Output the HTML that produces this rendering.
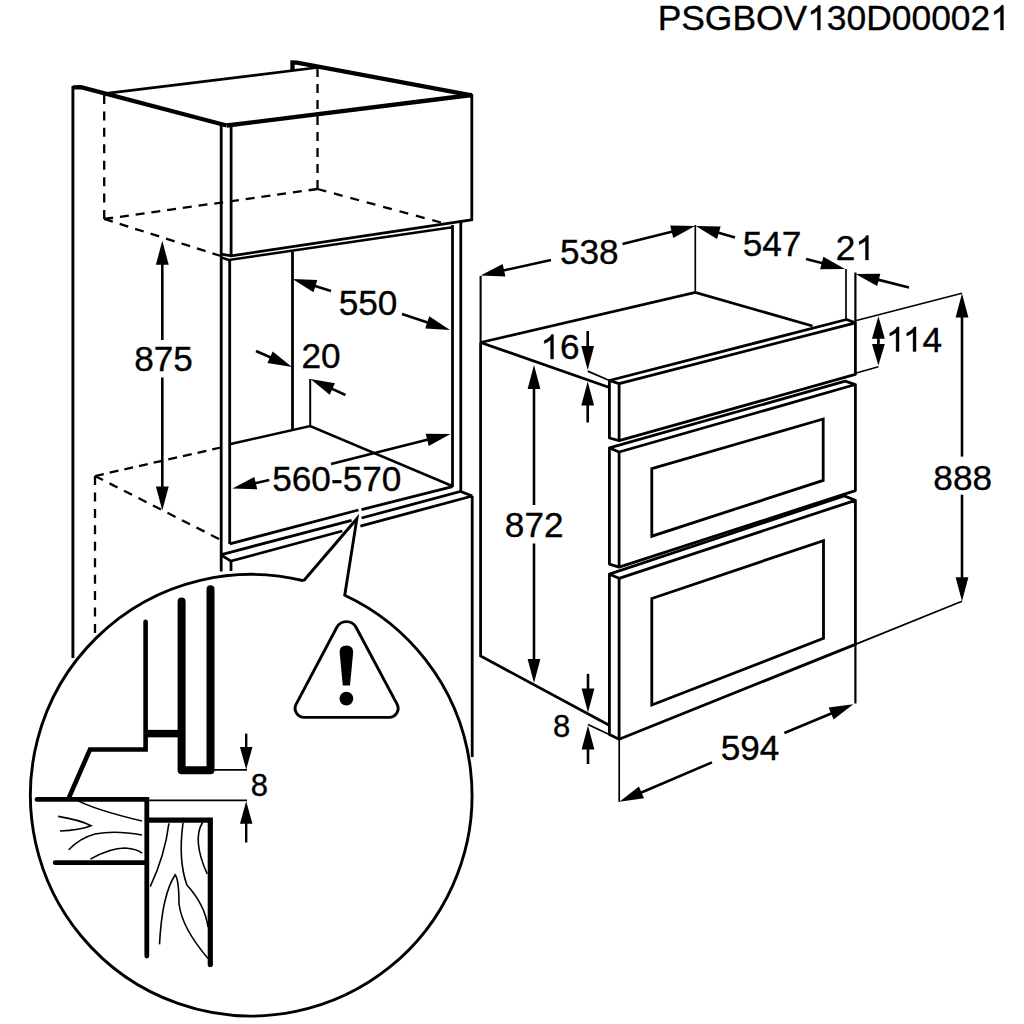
<!DOCTYPE html>
<html><head><meta charset="utf-8"><style>
html,body{margin:0;padding:0;background:#fff;}
svg{display:block;}
text{font-family:"Liberation Sans", sans-serif;fill:#000;stroke:#000;stroke-width:0.35px;}
</style></head><body>
<svg width="1024" height="1024" viewBox="0 0 1024 1024">
<rect width="1024" height="1024" fill="#fff"/>
<path d="M72.90,86.00 L72.90,658.00" fill="none" stroke="#000" stroke-width="2.9" />
<path d="M72.90,87.30 L81.00,87.20 L226.70,125.50" fill="none" stroke="#000" stroke-width="4.3" />
<path d="M226.70,125.50 L471.80,95.00" fill="none" stroke="#000" stroke-width="4.3" />
<path d="M104.50,93.60 L317.50,67.50" fill="none" stroke="#000" stroke-width="2.7" />
<path d="M292.50,70.00 L292.50,62.50 L297.00,62.60 L471.80,95.30" fill="none" stroke="#000" stroke-width="4.3" />
<path d="M471.80,94.00 L471.80,219.60" fill="none" stroke="#000" stroke-width="2.8" />
<path d="M473.00,219.60 L231.25,255.80 L221.20,254.20" fill="none" stroke="#000" stroke-width="2.8" />
<path d="M221.20,257.50 L228.90,260.00 L452.30,227.20" fill="none" stroke="#000" stroke-width="2.4" />
<path d="M104.20,95.00 L104.20,219.00" fill="none" stroke="#000" stroke-width="2.3" stroke-dasharray="9.0 7.429"/>
<path d="M104.20,219.00 L221.00,256.00" fill="none" stroke="#000" stroke-width="2.3" stroke-dasharray="9.0 7.217"/>
<path d="M104.20,219.00 L317.50,189.00" fill="none" stroke="#000" stroke-width="2.3" stroke-dasharray="9.0 6.877"/>
<path d="M317.50,189.00 L441.00,222.50" fill="none" stroke="#000" stroke-width="2.3" stroke-dasharray="9.0 7.995"/>
<path d="M317.50,68.00 L317.50,189.00" fill="none" stroke="#000" stroke-width="2.3" stroke-dasharray="9.0 7.000"/>
<path d="M221.20,124.00 L221.20,571.50" fill="none" stroke="#000" stroke-width="2.8" />
<path d="M231.10,125.00 L231.10,255.80" fill="none" stroke="#000" stroke-width="2.8" />
<path d="M229.70,260.00 L229.70,543.90" fill="none" stroke="#000" stroke-width="2.8" />
<path d="M231.00,561.00 L231.00,571.00" fill="none" stroke="#000" stroke-width="2.8" />
<path d="M452.50,225.00 L452.50,487.00" fill="none" stroke="#000" stroke-width="2.8" />
<path d="M460.80,221.00 L460.80,492.00" fill="none" stroke="#000" stroke-width="2.8" />
<path d="M292.50,251.50 L292.50,429.00" fill="none" stroke="#000" stroke-width="2.8" />
<path d="M310.20,379.00 L310.20,426.00" fill="none" stroke="#000" stroke-width="2.0" />
<path d="M230.60,444.00 L310.20,426.00 L452.20,486.00" fill="none" stroke="#000" stroke-width="2.5" />
<path d="M229.70,543.90 L358.50,510.00" fill="none" stroke="#000" stroke-width="2.8" />
<path d="M361.50,509.60 L452.50,486.70" fill="none" stroke="#000" stroke-width="2.8" />
<path d="M220.60,554.80 L351.60,520.40" fill="none" stroke="#000" stroke-width="2.8" />
<path d="M361.60,518.00 L460.50,491.50 L472.30,496.00" fill="none" stroke="#000" stroke-width="2.8" />
<path d="M220.60,554.80 L231.00,561.10 L342.30,531.00" fill="none" stroke="#000" stroke-width="2.8" />
<path d="M360.40,526.20 L472.30,496.00" fill="none" stroke="#000" stroke-width="2.8" />
<path d="M95.00,476.00 L221.00,447.50" fill="none" stroke="#000" stroke-width="2.3" stroke-dasharray="9.0 6.023"/>
<path d="M95.00,476.00 L219.00,539.00" fill="none" stroke="#000" stroke-width="2.3" stroke-dasharray="9.0 7.261"/>
<path d="M95.00,476.00 L95.00,633.00" fill="none" stroke="#000" stroke-width="2.3" stroke-dasharray="9.0 7.444"/>
<path d="M472.20,496.00 L472.20,757.00" fill="none" stroke="#000" stroke-width="2.8" />
<path d="M162.30,240.70 L155.90,264.70 L168.70,264.70 Z" fill="#000"/>
<path d="M162.30,262.70 L162.30,340.00" fill="none" stroke="#000" stroke-width="2.6" />
<path d="M162.30,510.50 L168.70,486.50 L155.90,486.50 Z" fill="#000"/>
<path d="M162.30,488.50 L162.30,377.50" fill="none" stroke="#000" stroke-width="2.6" />
<text x="134.14" y="370.50" font-size="35.2">875</text>
<path d="M292.50,279.00 L313.51,292.25 L317.32,280.03 Z" fill="#000"/>
<path d="M313.50,285.55 L331.00,291.00" fill="none" stroke="#000" stroke-width="2.6" />
<path d="M450.00,330.00 L429.26,316.34 L425.21,328.48 Z" fill="#000"/>
<path d="M429.13,323.04 L402.00,314.00" fill="none" stroke="#000" stroke-width="2.6" />
<text x="338.64" y="315.00" font-size="35.2">550</text>
<path d="M292.00,367.00 L272.67,351.40 L267.47,363.10 Z" fill="#000"/>
<path d="M271.90,358.06 L256.00,351.00" fill="none" stroke="#000" stroke-width="2.6" />
<path d="M310.50,379.00 L329.67,394.80 L334.99,383.16 Z" fill="#000"/>
<path d="M330.51,388.15 L345.50,395.00" fill="none" stroke="#000" stroke-width="2.6" />
<text x="301.42" y="367.50" font-size="35.2">20</text>
<path d="M450.50,434.00 L425.66,433.64 L428.78,446.05 Z" fill="#000"/>
<path d="M429.16,439.36 L331.00,464.00" fill="none" stroke="#000" stroke-width="2.6" />
<path d="M232.40,488.50 L257.22,489.35 L254.35,476.88 Z" fill="#000"/>
<path d="M253.84,483.56 L269.30,480.00" fill="none" stroke="#000" stroke-width="2.6" />
<text x="272.21" y="491.00" font-size="35.2">560-570</text>
<path d="M303.65,580.72 L356.9,518.7 L344.74,595.19 A220.8,220.8 0 1 1 303.65,580.72" fill="#fff" stroke="#000" stroke-width="2.9"/>
<path d="M356.15,627.48 L397.04,704.17 A9,9 0 0 1 389.10,717.40 L304.14,717.40 A9,9 0 0 1 296.18,704.19 L336.72,627.52 A11,11 0 0 1 356.15,627.48 Z" fill="none" stroke="#000" stroke-width="2.9"/>
<path d="M339.6,652 Q339.6,645.5 346.4,645.5 Q353.2,645.5 353.2,652 L350,685.6 L342.8,685.6 Z" fill="#000"/>
<circle cx="346.4" cy="698.6" r="6.9" fill="#000"/>
<path d="M145.60,621.80 L145.60,749.50 L90.00,749.50 L69.00,797.50" fill="none" stroke="#000" stroke-width="4.6" stroke-linejoin="miter" stroke-linecap="round"/>
<path d="M147.00,733.60 L179.00,733.60" fill="none" stroke="#000" stroke-width="7.5" />
<path d="M181.6,601.5 L181.6,770.2 L210.5,770.2 L210.5,589.3" fill="none" stroke="#000" stroke-width="8" stroke-linecap="round" stroke-linejoin="round"/>
<path d="M214.00,769.80 L247.00,769.80" fill="none" stroke="#000" stroke-width="1.7" />
<path d="M246.20,769.60 L252.45,747.10 L239.95,747.10 Z" fill="#000"/>
<path d="M246.20,749.10 L246.20,733.60" fill="none" stroke="#000" stroke-width="2.4" />
<path d="M148.40,800.30 L247.00,800.30" fill="none" stroke="#000" stroke-width="1.7" />
<path d="M246.20,801.20 L239.95,823.70 L252.45,823.70 Z" fill="#000"/>
<path d="M246.20,821.70 L246.20,842.50" fill="none" stroke="#000" stroke-width="2.4" />
<text x="250.68" y="796.00" font-size="31">8</text>
<path d="M37,799.4 L146.8,799.4 L146.8,956" fill="none" stroke="#000" stroke-width="4.8" stroke-linecap="round"/>
<path d="M149,820.2 L210.3,820.2 L210.3,964.5" fill="none" stroke="#000" stroke-width="5.2" stroke-linecap="round"/>
<path d="M55.2,862.7 L146.8,862.7" fill="none" stroke="#000" stroke-width="4.8" stroke-linecap="round"/>
<path d="M75.2,799.4 Q95,810 142,821" fill="none" stroke="#000" stroke-width="1.6"/>
<path d="M58.2,816.4 Q80,820 91,825.7 Q80,830 60,831" fill="none" stroke="#000" stroke-width="1.6"/>
<path d="M68.7,849.8 Q80,838 95,834 Q115,830 142,835" fill="none" stroke="#000" stroke-width="1.6"/>
<path d="M90.4,859.1 Q110,848 125,848 Q138,849 142,853.3" fill="none" stroke="#000" stroke-width="1.6"/>
<path d="M168.9,823.3 Q165,855 150.2,886.6" fill="none" stroke="#000" stroke-width="1.6"/>
<path d="M183,823 Q178,860 186.9,885 Q205,905 208,927" fill="none" stroke="#000" stroke-width="1.6"/>
<path d="M202.5,822.5 Q192,840 207.2,874" fill="none" stroke="#000" stroke-width="1.6"/>
<path d="M159.5,944.4 Q162,895 175.2,874.8 Q179,880 179,904 Q182,928 208,958.4" fill="none" stroke="#000" stroke-width="1.6"/>
<path d="M480.60,276.00 L480.60,342.50" fill="none" stroke="#000" stroke-width="2.1" />
<path d="M480.60,342.50 L480.60,656.00 L609.20,725.20" fill="none" stroke="#000" stroke-width="2.8" />
<path d="M480.60,342.50 L695.30,292.50 L812.50,326.00" fill="none" stroke="#000" stroke-width="2.8" />
<path d="M480.60,342.50 L609.40,387.50" fill="none" stroke="#000" stroke-width="2.8" />
<path d="M695.30,225.00 L695.30,292.50" fill="none" stroke="#000" stroke-width="1.7" />
<path d="M846.00,269.00 L846.00,320.00" fill="none" stroke="#000" stroke-width="1.7" />
<path d="M480.60,275.50 L505.41,276.59 L502.66,264.09 Z" fill="#000"/>
<path d="M502.09,270.77 L551.00,260.00" fill="none" stroke="#000" stroke-width="2.6" />
<path d="M695.00,226.00 L670.17,225.57 L673.25,237.99 Z" fill="#000"/>
<path d="M673.65,231.30 L622.50,244.00" fill="none" stroke="#000" stroke-width="2.6" />
<text x="559.94" y="264.00" font-size="35.2">538</text>
<path d="M695.80,226.00 L717.03,238.90 L720.63,226.61 Z" fill="#000"/>
<path d="M716.91,232.19 L735.00,237.50" fill="none" stroke="#000" stroke-width="2.6" />
<path d="M845.00,269.00 L823.34,256.84 L820.16,269.24 Z" fill="#000"/>
<path d="M823.69,263.54 L806.00,259.00" fill="none" stroke="#000" stroke-width="2.6" />
<text x="742.64" y="256.00" font-size="35.2">547</text>
<path d="M855.50,274.00 L877.20,286.08 L880.34,273.67 Z" fill="#000"/>
<path d="M876.83,279.38 L909.00,287.50" fill="none" stroke="#000" stroke-width="2.6" />
<text x="835.72" y="260.00" font-size="35.2">2</text>
<path transform="translate(855.30,260.00) scale(0.01719,-0.01719)" d="M763,0 L590,0 L590,1110 Q518,1050 412,990 Q307,930 223,900 L223,1070 Q374,1140 487,1238 Q600,1336 647,1430 L763,1430 Z" fill="#000" stroke="#000" stroke-width="0.35" vector-effect="non-scaling-stroke"/>
<path d="M855.40,272.50 L855.40,322.50" fill="none" stroke="#000" stroke-width="2.2" />
<path d="M855.40,644.40 L855.40,703.50" fill="none" stroke="#000" stroke-width="2.2" />
<path d="M609.40,380.50 L846.50,319.50 L855.40,322.80 L855.40,374.40 L619.10,440.70 L609.40,438.00 L609.40,380.50 L619.10,383.70 L855.40,322.80" fill="none" stroke="#000" stroke-width="2.8" stroke-linejoin="round"/>
<path d="M619.10,383.70 L619.10,440.70" fill="none" stroke="#000" stroke-width="2.8" />
<path d="M609.40,447.90 L845.20,381.20 L855.40,384.50 L855.40,490.60 L619.10,567.20 L609.40,564.10 L609.40,447.90 L619.10,452.00 L855.40,384.50" fill="none" stroke="#000" stroke-width="2.8" stroke-linejoin="round"/>
<path d="M619.10,452.00 L619.10,567.20" fill="none" stroke="#000" stroke-width="2.8" />
<path d="M651.8,468.6 L823.2,419 L823.2,480.4 L651.8,536.2 Z" fill="none" stroke="#000" stroke-width="2.8"/>
<path d="M609.40,574.20 L844.10,495.90 L855.40,500.30 L855.40,644.40 L619.10,739.20 L609.40,734.40 L609.40,574.20 L619.10,578.30 L855.40,500.30" fill="none" stroke="#000" stroke-width="2.8" stroke-linejoin="round"/>
<path d="M619.10,578.30 L619.10,739.20" fill="none" stroke="#000" stroke-width="2.8" />
<path d="M651.8,598.5 L823.5,540.6 L823.5,638.4 L651.8,705 Z" fill="none" stroke="#000" stroke-width="2.8"/>
<path d="M587.70,370.00 L594.10,346.00 L581.30,346.00 Z" fill="#000"/>
<path d="M587.70,348.00 L587.70,331.00" fill="none" stroke="#000" stroke-width="2.6" />
<path d="M587.70,381.50 L581.30,405.50 L594.10,405.50 Z" fill="#000"/>
<path d="M587.70,403.50 L587.70,422.50" fill="none" stroke="#000" stroke-width="2.6" />
<path d="M587.70,371.10 L609.40,380.50" fill="none" stroke="#000" stroke-width="1.7" />
<path transform="translate(540.42,359.00) scale(0.01719,-0.01719)" d="M763,0 L590,0 L590,1110 Q518,1050 412,990 Q307,930 223,900 L223,1070 Q374,1140 487,1238 Q600,1336 647,1430 L763,1430 Z" fill="#000" stroke="#000" stroke-width="0.35" vector-effect="non-scaling-stroke"/>
<text x="560.00" y="359.00" font-size="35.2">6</text>
<path d="M878.40,316.30 L872.00,338.80 L884.80,338.80 Z" fill="#000"/>
<path d="M878.40,336.80 L878.40,342.00" fill="none" stroke="#000" stroke-width="2.6" />
<path d="M878.40,365.50 L884.80,344.00 L872.00,344.00 Z" fill="#000"/>
<path d="M878.40,346.00 L878.40,341.00" fill="none" stroke="#000" stroke-width="2.6" />
<path d="M855.40,373.30 L878.40,366.80" fill="none" stroke="#000" stroke-width="1.7" />
<path d="M855.40,320.70 L962.00,293.20" fill="none" stroke="#000" stroke-width="1.7" />
<path transform="translate(885.94,351.50) scale(0.01719,-0.01719)" d="M763,0 L590,0 L590,1110 Q518,1050 412,990 Q307,930 223,900 L223,1070 Q374,1140 487,1238 Q600,1336 647,1430 L763,1430 Z" fill="#000" stroke="#000" stroke-width="0.35" vector-effect="non-scaling-stroke"/>
<path transform="translate(902.91,351.50) scale(0.01719,-0.01719)" d="M763,0 L590,0 L590,1110 Q518,1050 412,990 Q307,930 223,900 L223,1070 Q374,1140 487,1238 Q600,1336 647,1430 L763,1430 Z" fill="#000" stroke="#000" stroke-width="0.35" vector-effect="non-scaling-stroke"/>
<text x="922.48" y="351.50" font-size="35.2">4</text>
<path d="M962.00,293.60 L955.60,317.60 L968.40,317.60 Z" fill="#000"/>
<path d="M962.00,315.60 L962.00,456.60" fill="none" stroke="#000" stroke-width="2.6" />
<path d="M962.00,601.30 L968.40,577.30 L955.60,577.30 Z" fill="#000"/>
<path d="M962.00,579.30 L962.00,494.70" fill="none" stroke="#000" stroke-width="2.6" />
<path d="M855.40,644.40 L962.00,601.30" fill="none" stroke="#000" stroke-width="1.7" />
<text x="933.34" y="490.00" font-size="35.2">888</text>
<path d="M534.00,365.00 L527.60,389.00 L540.40,389.00 Z" fill="#000"/>
<path d="M534.00,387.00 L534.00,505.00" fill="none" stroke="#000" stroke-width="2.6" />
<path d="M534.00,683.00 L540.40,659.00 L527.60,659.00 Z" fill="#000"/>
<path d="M534.00,661.00 L534.00,543.50" fill="none" stroke="#000" stroke-width="2.6" />
<text x="504.84" y="536.50" font-size="35.2">872</text>
<path d="M588.00,712.60 L594.40,688.60 L581.60,688.60 Z" fill="#000"/>
<path d="M588.00,690.60 L588.00,673.80" fill="none" stroke="#000" stroke-width="2.6" />
<path d="M588.00,725.50 L581.60,749.50 L594.40,749.50 Z" fill="#000"/>
<path d="M588.00,747.50 L588.00,764.00" fill="none" stroke="#000" stroke-width="2.6" />
<path d="M588.00,724.50 L609.20,734.40" fill="none" stroke="#000" stroke-width="1.7" />
<text x="552.88" y="737.00" font-size="31">8</text>
<path d="M619.20,739.20 L619.20,801.80" fill="none" stroke="#000" stroke-width="1.7" />
<path d="M619.40,801.80 L643.99,798.29 L638.98,786.51 Z" fill="#000"/>
<path d="M639.64,793.19 L712.00,762.40" fill="none" stroke="#000" stroke-width="2.6" />
<path d="M853.30,704.30 L828.68,707.62 L833.61,719.44 Z" fill="#000"/>
<path d="M832.99,712.76 L784.40,733.00" fill="none" stroke="#000" stroke-width="2.6" />
<text x="720.64" y="760.00" font-size="35.2">594</text>
<text x="657.66" y="30.00" font-size="35.4">PSGBOV</text>
<path transform="translate(807.18,30.00) scale(0.01729,-0.01729)" d="M763,0 L590,0 L590,1110 Q518,1050 412,990 Q307,930 223,900 L223,1070 Q374,1140 487,1238 Q600,1336 647,1430 L763,1430 Z" fill="#000" stroke="#000" stroke-width="0.35" vector-effect="non-scaling-stroke"/>
<text x="826.87" y="30.00" font-size="35.4">30D00002</text>
<path transform="translate(990.25,30.00) scale(0.01729,-0.01729)" d="M763,0 L590,0 L590,1110 Q518,1050 412,990 Q307,930 223,900 L223,1070 Q374,1140 487,1238 Q600,1336 647,1430 L763,1430 Z" fill="#000" stroke="#000" stroke-width="0.35" vector-effect="non-scaling-stroke"/>
</svg></body></html>
